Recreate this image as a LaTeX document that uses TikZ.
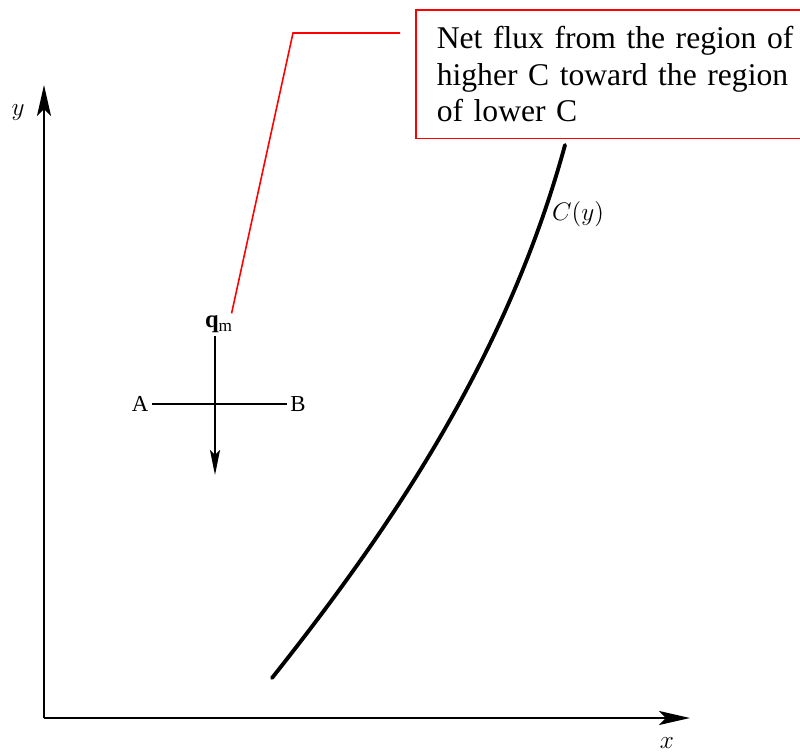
\documentclass[tikz,border=0pt]{standalone}
\usepackage{fontspec}
\setmainfont{Liberation Serif}
\usetikzlibrary{arrows.meta}
\begin{document}
\begin{tikzpicture}[>={Stealth[length=0.62cm,width=0.28cm,inset=0.14cm]},
  axis/.style={line width=1.3pt},
  flux/.style={line width=1.1pt},
  callout/.style={red,line width=0.9pt},
  every node/.style={font=\fontsize{13}{15}\selectfont}]
\useasboundingbox (0,0) rectangle (16,15.06);
\coordinate (O) at (0.88,0.70);
\coordinate (ytip) at (0.88,13.36);
\coordinate (xtip) at (13.80,0.70);
\node[font=\fontsize{15}{17}\selectfont] (ylab) at (0.36,12.80) {$y$};
\node[font=\fontsize{15}{17}\selectfont] (xlab) at (13.34,0.20) {$x$};
\draw[axis,->] (O) -- (ytip);
\draw[axis,->] (O) -- (xtip);
\node[inner sep=2pt] (A) at (2.80,6.98) {A};
\node[inner sep=2pt] (B) at (5.96,6.98) {B};
\node[inner sep=2pt,font=\fontsize{14}{16}\selectfont] (qm) at (4.38,8.58) {\textbf{q}$_{\mathrm{m}}$};
\coordinate (qtip) at (4.30,5.56);
\draw[flux] (A) -- (B);
\draw[flux,->,>={Stealth[length=0.5cm,width=0.2cm,inset=0.1cm]}] (qm.south -| qtip) -- (qtip);
\draw[line width=2.2pt,line cap=round] (5.44,1.50) .. controls (7.74,4.40) and (10.12,7.84) .. (11.30,12.16);
\node[font=\fontsize{15}{17}\selectfont] (Clab) at (11.56,10.78) {$C(y)$};
\node[draw=red,line width=0.9pt,anchor=north west,inner xsep=0.42cm,inner ysep=0.33cm,
  text width=8.2cm,align=left,font=\fontsize{18}{20.8}\selectfont] (note) at (8.30,14.88)
  {Net flux from the region of\\higher C toward the region\\of lower C};
\coordinate (lead) at (8.00,14.40);
\coordinate (knee) at (5.86,14.40);
\draw[callout] (lead) -- (knee) -- ([xshift=-3pt,yshift=-1pt]qm.north east);
\end{tikzpicture}
\end{document}
